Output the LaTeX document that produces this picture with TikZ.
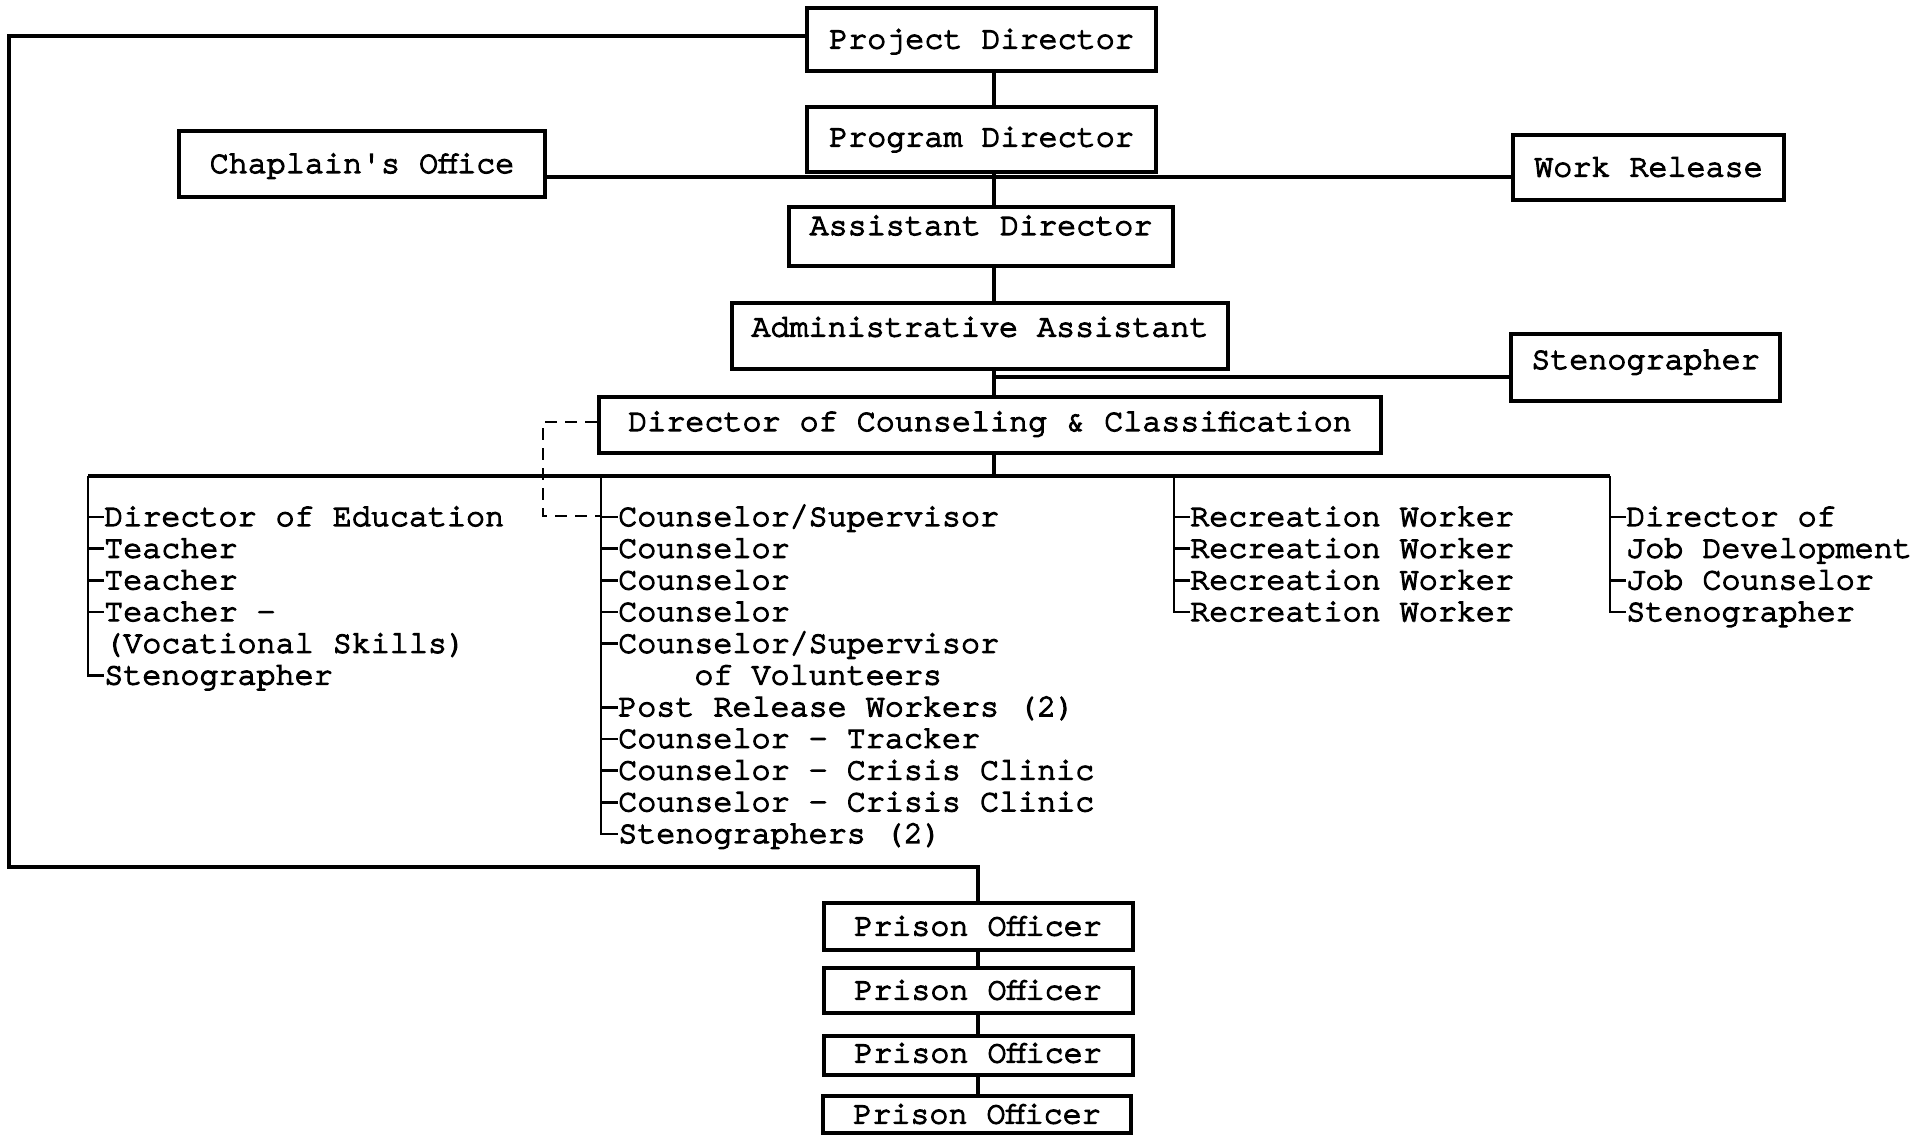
\documentclass[tikz,border=0pt]{standalone}
\usepackage{fontspec}
\setmainfont{texgyrecursor-regular.otf}[Ligatures=TeXOff, FakeBold=4]
\usepackage{tikz}

\begin{document}
\begin{tikzpicture}[x=0.75pt,y=0.75pt,yscale=-1,xscale=1,
    every node/.style={font=\fontsize{23.8}{28}\selectfont},
    office/.style={draw, line width=3pt, inner sep=0pt, text height=13.4pt, text depth=#1},
    office/.default=0pt,
    post/.style={anchor=west, inner sep=0pt, text height=13.4pt, text depth=0pt},
    link/.style={line width=2.6pt},
    rule/.style={line width=2pt},
    loopline/.style={line width=3.2pt},
    dotted link/.style={line width=2.2pt, dash pattern=on 9pt off 6pt}]
    \useasboundingbox (0,0) rectangle (1921,1135);

    % Boxes
    \node[office, minimum width=261.75pt, minimum height=47.25pt] (proj) at (981.5,39.5) {Project Director};
    \node[office=3pt, minimum width=261.75pt, minimum height=48.75pt] (prog) at (981.5,139.5) {Program Director};
    \node[office, minimum width=274.5pt, minimum height=49.5pt] (chap) at (362,164) {Chaplain's Office};
    \node[office, minimum width=203.25pt, minimum height=48.75pt] (work) at (1648.5,167.5) {Work Release};
    \node[office=15.75pt, minimum width=288pt, minimum height=44.25pt] (asst) at (981,236.5) {Assistant Director};
    \node[office=12.75pt, minimum width=372pt, minimum height=49.5pt] (admin) at (980,336) {Administrative Assistant};
    \node[office=11.25pt, minimum width=201.75pt, minimum height=50.25pt] (steno) at (1645.5,367.5) {Stenographer};
    \node[office=4.5pt, minimum width=586.5pt, minimum height=42pt] (dcc) at (990,425) {Director of Counseling \& Classification};
    \node[office, minimum width=231.75pt, minimum height=35.25pt] (po1) at (978,926.5) {Prison Officer};
    \node[office, minimum width=231.75pt, minimum height=33.75pt] (po2) at (978,990.5) {Prison Officer};
    \node[office=3pt, minimum width=231.75pt, minimum height=29.25pt] (po3) at (978,1055.5) {Prison Officer};
    \node[office, minimum width=231pt, minimum height=27.75pt] (po4) at (977,1114.5) {Prison Officer};

    % Junctions
    \coordinate (side) at (994,177);
    \coordinate (aside) at (994,377);
    \coordinate (c1) at (88,476);
    \coordinate (c2) at (601,476);
    \coordinate (c3) at (1174,476);
    \coordinate (c4) at (1610,476);
    \coordinate (ltop) at (9,36);
    \coordinate (lbot) at (9,867);
    \coordinate (dash1) at (543,422);
    \coordinate (dash2) at (543,516);

    % Main line
    \draw[link] (proj.south -| side) -- (prog.north -| side);
    \draw[link] (prog.south -| side) -- (asst.north -| side);
    \draw[link] (asst.south -| side) -- (admin.north -| side);
    \draw[link] (admin.south -| side) -- (dcc.north -| side);
    \draw[link] (dcc.south -| side) -- (side |- c1);
    \draw[link] (side -| chap.east) -- (side -| work.west);
    \draw[link] (aside) -- (aside -| steno.west);
    \draw[link] (c1) -- (c4);

    % Loop to the prison officers
    \draw[loopline] (proj.west |- ltop) -- (ltop) -- (lbot) -- (lbot -| po1.north) -- (po1.north);
    \draw[link] (po1.south) -- (po2.north);
    \draw[link] (po2.south) -- (po3.north);
    \draw[link] (po3.south) -- (po3.south |- po4.north);

    % Dashed line
    \draw[dotted link] (dcc.west |- dash1) -- (dash1) -- (dash2) -- (dash2 -| c2);

    % Education
    \foreach \nm/\row/\txt in {ed0/0/Director of Education, ed1/1/Teacher, ed2/2/Teacher,
        ed3/3/Teacher -, ed4/4/(Vocational Skills), ed5/5/Stenographer}
        \node[post] (\nm) at (104,{517+31.7*\row}) {\txt};
    \foreach \nm in {ed0,ed1,ed2,ed3,ed5}
        \draw[rule] (c1) |- (\nm.west);

    % Counseling
    \foreach \nm/\row/\txt in {cs0/0/{Counselor/Supervisor}, cs1/1/Counselor, cs2/2/Counselor,
        cs3/3/Counselor, cs4/4/{Counselor/Supervisor}, cs5/5/\hphantom{Coun}of Volunteers,
        cs6/6/Post Release Workers (2), cs7/7/Counselor - Tracker,
        cs8/8/Counselor - Crisis Clinic, cs9/9/Counselor - Crisis Clinic,
        cs10/10/Stenographers (2)}
        \node[post] (\nm) at (618,{517+31.7*\row}) {\txt};
    \foreach \nm in {cs0,cs1,cs2,cs3,cs4,cs6,cs7,cs8,cs9,cs10}
        \draw[rule] (c2) |- (\nm.west);

    % Recreation
    \foreach \row in {0,...,3}
        \node[post] (rw\row) at (1190,{517+31.7*\row}) {Recreation Worker};
    \foreach \row in {0,...,3}
        \draw[rule] (c3) |- (rw\row.west);

    % Job development
    \foreach \nm/\row/\txt in {jd0/0/Director of, jd1/1/Job Development, jd2/2/Job Counselor,
        jd3/3/Stenographer}
        \node[post] (\nm) at (1626,{517+31.7*\row}) {\txt};
    \foreach \nm in {jd0,jd2,jd3}
        \draw[rule] (c4) |- (\nm.west);

\end{tikzpicture}
\end{document}
